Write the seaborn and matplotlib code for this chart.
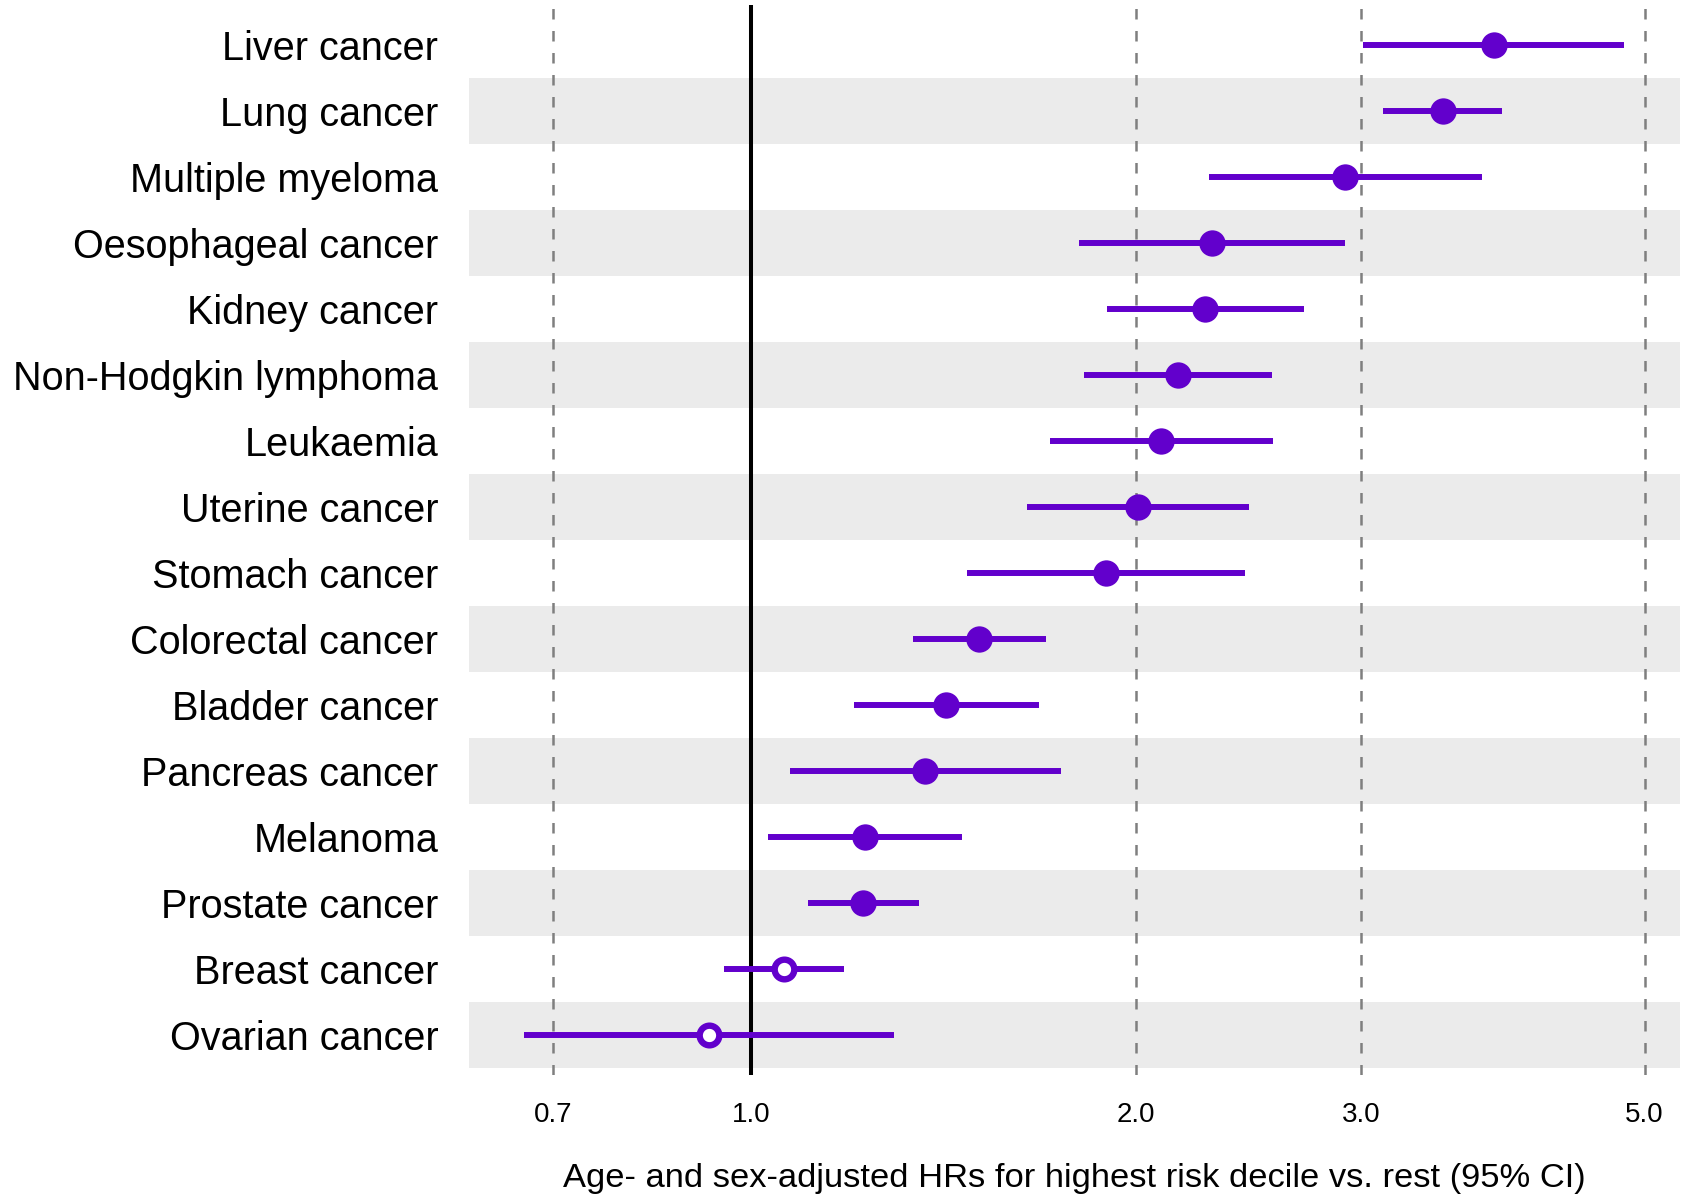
import numpy as np
import pandas as pd
import matplotlib
matplotlib.use("Agg")
import matplotlib.pyplot as plt
import seaborn as sns

# Hazard ratios (highest risk decile vs. rest) with 95% confidence intervals
cancers = [
    "Liver cancer", "Lung cancer", "Multiple myeloma", "Oesophageal cancer",
    "Kidney cancer", "Non-Hodgkin lymphoma", "Leukaemia", "Uterine cancer",
    "Stomach cancer", "Colorectal cancer", "Bladder cancer", "Pancreas cancer",
    "Melanoma", "Prostate cancer", "Breast cancer", "Ovarian cancer",
]
hr = [3.81, 3.475, 2.917, 2.292, 2.265, 2.156, 2.094, 2.008,
      1.894, 1.509, 1.422, 1.368, 1.227, 1.224, 1.061, 0.927]
ci_low = [3.01, 3.123, 2.281, 1.805, 1.897, 1.821, 1.712, 1.643,
          1.476, 1.339, 1.204, 1.072, 1.031, 1.109, 0.953, 0.664]
ci_high = [4.82, 3.869, 3.732, 2.913, 2.706, 2.555, 2.560, 2.453,
           2.433, 1.701, 1.680, 1.747, 1.461, 1.353, 1.182, 1.294]
significant = [True] * 14 + [False, False]

x_ticks = [0.7, 1.0, 2.0, 3.0, 5.0]
x_tick_labels = ["0.7", "1.0", "2.0", "3.0", "5.0"]

df = pd.DataFrame({
    "cancer": cancers, "hr": hr, "lo": ci_low, "hi": ci_high,
    "sig": significant,
})
df["pos"] = np.arange(len(df))

purple = "#6200CC"

sns.set_theme(style="white")
plt.rcParams["font.family"] = ["Liberation Sans", "DejaVu Sans"]

fig = plt.figure(figsize=(16.94, 11.96), dpi=100)
ax = fig.add_axes([0.2767, 0.1015, 0.9917 - 0.2767, 0.9955 - 0.1015])
ax.set_xscale("log")

# alternating row bands
for p in df["pos"]:
    if p % 2 == 1:
        ax.axhspan(p - 0.5, p + 0.5, color="#EBEBEB", lw=0, zorder=0)

# reference grid lines and the null line
for t in x_ticks:
    ax.axvline(t, color="#7F7F7F", lw=1.8, ls=(0, (4.2, 4.6)), zorder=1)
ax.axvline(1.0, color="black", lw=2.9, zorder=2)

# confidence intervals
ax.hlines(df["pos"], df["lo"], df["hi"], color=purple, lw=4.3,
          capstyle="butt", zorder=3)

# point estimates: filled when significant, open otherwise
sns.scatterplot(data=df[df["sig"]], x="hr", y="pos", ax=ax, s=360,
                color=purple, linewidth=0, zorder=4, legend=False)
sns.scatterplot(data=df[~df["sig"]], x="hr", y="pos", ax=ax, s=200,
                facecolor="white", edgecolor=purple, linewidth=4.6,
                zorder=4, legend=False)

ax.set_xlim(0.6015, 5.328)
ax.set_ylim(len(df) - 0.4, -0.6)
ax.set_xticks(x_ticks)
ax.set_xticklabels(x_tick_labels)
ax.xaxis.set_minor_locator(matplotlib.ticker.NullLocator())
ax.set_yticks(df["pos"])
ax.set_yticklabels(df["cancer"])
ax.tick_params(axis="y", length=0, pad=22, labelsize=28.5, labelcolor="black")
ax.tick_params(axis="x", length=0, pad=20, labelsize=20, labelcolor="black")
ax.set_xlabel("Age- and sex-adjusted HRs for highest risk decile vs. rest (95% CI)",
              fontsize=24.8, color="black", labelpad=25)
ax.set_ylabel("")
for s in ax.spines.values():
    s.set_visible(False)

fig.savefig("out.png", dpi=100, facecolor="white")
